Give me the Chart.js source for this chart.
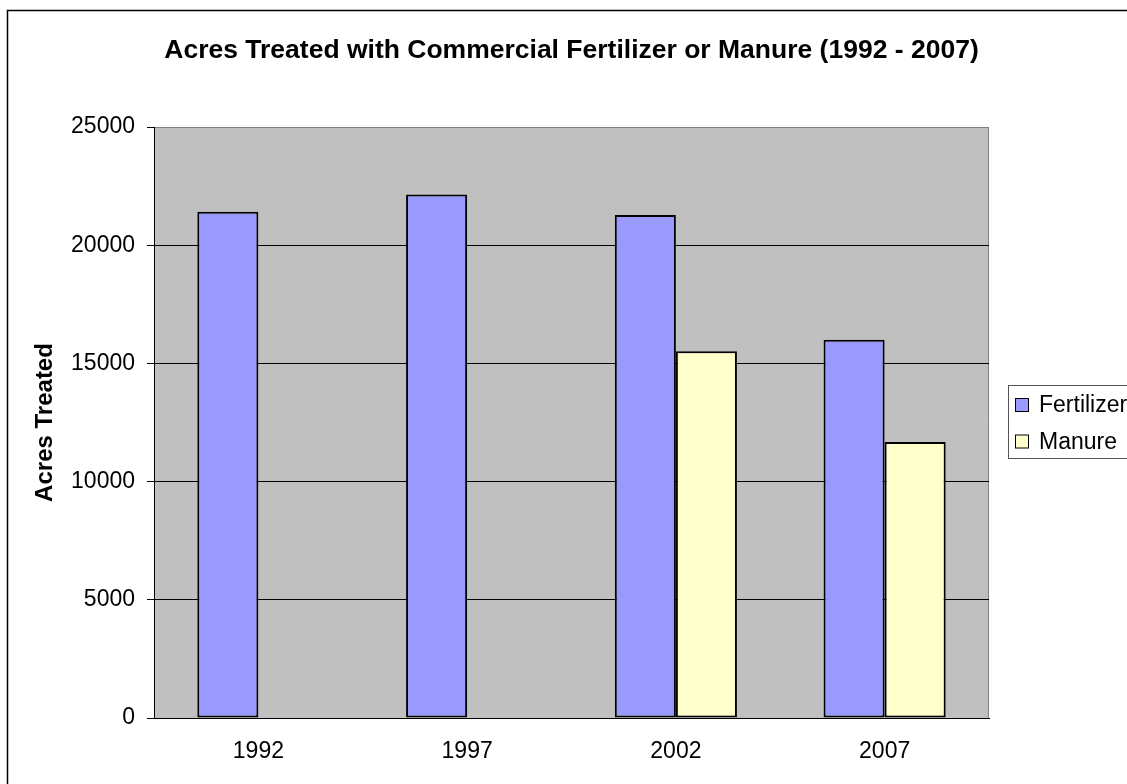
<!DOCTYPE html>
<html>
<head>
<meta charset="utf-8">
<script src="https://cdn.jsdelivr.net/npm/chart.js@4.4.1/dist/chart.umd.min.js"></script>
<style>
  html, body { margin: 0; padding: 0; background: #fff; }
  #wrap { width: 1127px; height: 784px; }
</style>
</head>
<body>
<div id="wrap"><canvas id="chart"></canvas></div>
<script>
const years = ['1992', '1997', '2002', '2007']
const fertilizer = [21420, 22140, 21280, 16000]
const manure = [null, null, 15510, 11670]
const seriesNames = ['Fertilizer', 'Manure']
const seriesColors = ['#9999FF', '#FFFFCC']
const titleText = 'Acres Treated with Commercial Fertilizer or Manure (1992 - 2007)'
const yTitle = 'Acres Treated'

const font = 'Liberation Sans, Arial, Helvetica, sans-serif'
const plotBg = '#C0C0C0', frameGray = '#808080'

// white page, outer chart frame and grey plot area
const backdrop = {
  id: 'backdrop',
  beforeDraw: (chart) => {
    const { ctx, chartArea: a } = chart
    ctx.save()
    ctx.fillStyle = '#fff'
    ctx.fillRect(0, 0, chart.width, chart.height)
    ctx.strokeStyle = '#000'
    ctx.lineWidth = 1.5
    ctx.strokeRect(7.5, 10.5, chart.width + 40, chart.height + 40)
    ctx.fillStyle = plotBg
    ctx.fillRect(a.left, a.top, a.right - a.left, a.bottom - a.top)
    ctx.strokeStyle = frameGray
    ctx.lineWidth = 1
    ctx.beginPath()
    ctx.moveTo(a.left, a.top + 0.5)
    ctx.lineTo(a.right - 0.5, a.top + 0.5)
    ctx.lineTo(a.right - 0.5, a.bottom)
    ctx.stroke()
    ctx.restore()
  }
}

// excel style boxed legend, partly running off the right edge
const boxLegend = {
  id: 'boxLegend',
  afterDraw: (chart) => {
    const ctx = chart.ctx
    const x = 1008, y = 385, rowH = 36.5
    ctx.save()
    ctx.strokeStyle = '#555'
    ctx.lineWidth = 1
    ctx.strokeRect(x + 0.5, y + 0.5, 200, 73)
    ctx.font = `23px ${font}`
    ctx.textBaseline = 'middle'
    chart.data.datasets.forEach((ds, i) => {
      const cy = y + 20 + i * rowH
      ctx.fillStyle = ds.backgroundColor
      ctx.fillRect(x + 7.5, cy - 6.5, 13, 13)
      ctx.strokeStyle = '#000'
      ctx.strokeRect(x + 7.5, cy - 6.5, 13, 13)
      ctx.fillStyle = '#000'
      ctx.fillText(ds.label, x + 31, cy + 1)
    })
    ctx.restore()
  }
}

const barStyle = (i) => ({
  label: seriesNames[i],
  backgroundColor: seriesColors[i],
  borderColor: '#000',
  borderWidth: 2,
  borderSkipped: false,
  categoryPercentage: 0.585,
  barPercentage: 1
})

new Chart(document.getElementById('chart'), {
  type: 'bar',
  data: {
    labels: years,
    datasets: [
      { ...barStyle(0), data: fertilizer },
      { ...barStyle(1), data: manure }
    ]
  },
  options: {
    responsive: true,
    maintainAspectRatio: false,
    animation: false,
    layout: { padding: { left: 0, right: 138, top: 0, bottom: 0 } },
    scales: {
      x: {
        grid: { display: false, drawTicks: false },
        border: { display: true, color: '#000', width: 1 },
        ticks: { color: '#000', padding: 20, font: { family: font, size: 23 } },
        afterFit: (scale) => { scale.height = 66 }
      },
      y: {
        min: 0,
        max: 25000,
        grid: {
          color: (c) => c.tick && c.tick.value === 25000 ? frameGray : '#000',
          tickColor: '#000',
          tickLength: 7,
          lineWidth: 1
        },
        border: { display: true, color: '#000', width: 1 },
        ticks: {
          stepSize: 5000,
          color: '#000',
          padding: 12,
          font: { family: font, size: 23 },
          callback: (v) => String(v)
        },
        title: {
          display: true,
          text: yTitle,
          color: '#000',
          padding: { top: 30.6, bottom: 0 },
          font: { family: font, size: 24, weight: 'bold' }
        },
        afterFit: (scale) => { scale.width = 154 }
      }
    },
    plugins: {
      legend: { display: false },
      tooltip: { enabled: false },
      title: {
        display: true,
        text: titleText,
        color: '#000',
        fullSize: false,
        padding: { top: 35, bottom: 60.2 },
        font: { family: font, size: 26.5, weight: 'bold', lineHeight: 1.2 }
      }
    }
  },
  plugins: [backdrop, boxLegend]
})
</script>
</body>
</html>
